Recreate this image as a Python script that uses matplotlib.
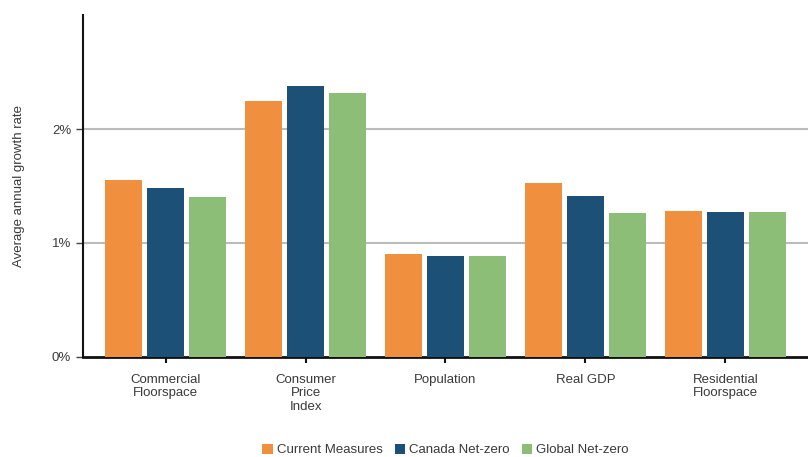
import numpy as np
import matplotlib
matplotlib.use("Agg")
import matplotlib.pyplot as plt
from matplotlib.ticker import FuncFormatter

plt.rcParams['font.family'] = ['Liberation Sans', 'DejaVu Sans']

categories = ["Commercial\nFloorspace", "Consumer\nPrice\nIndex", "Population",
              "Real GDP", "Residential\nFloorspace"]
series_names = ["Current Measures", "Canada Net-zero", "Global Net-zero"]
current_measures = [1.555, 2.25, 0.90, 1.53, 1.28]
canada_net_zero = [1.48, 2.38, 0.89, 1.41, 1.275]
global_net_zero = [1.40, 2.32, 0.89, 1.26, 1.275]

colors = ["#F08F3E", "#1D5077", "#8DBE78"]
text_col = "#3a3a3a"

fig = plt.figure(figsize=(8.08, 4.57), dpi=100)
ax = fig.add_axes([0.1027, 0.219, 0.8973, 0.748])

x = np.arange(len(categories))
width = 0.27
offsets = [-0.3, 0.0, 0.3]
for vals, off, col, name in zip([current_measures, canada_net_zero, global_net_zero],
                                offsets, colors, series_names):
    ax.bar(x + off, vals, width=width, color=col, label=name, zorder=3)

ax.set_xlim(-0.59, 4.59)
ax.set_ylim(0, 3)
ax.set_yticks([0, 1, 2])
ax.yaxis.set_major_formatter(FuncFormatter(lambda v, p: f"{v:.0f}%"))
ax.set_xticks(x)
ax.set_xticklabels(categories, fontsize=9.5, color=text_col, linespacing=1.2)
ax.tick_params(axis="y", labelsize=9.5, labelcolor=text_col, length=5, width=1, color="#444444")
ax.tick_params(axis="x", length=4, width=1.5, color="#111111", pad=8)

# light horizontal reference lines
for v in [1, 2]:
    ax.axhline(v, color="#BBBBBB", linewidth=1.5, zorder=1)

ax.spines["top"].set_visible(False)
ax.spines["right"].set_visible(False)
ax.spines["left"].set_linewidth(1.5)
ax.spines["bottom"].set_linewidth(2.0)
ax.spines["left"].set_color("#111111")
ax.spines["bottom"].set_color("#111111")

ax.set_ylabel("Average annual growth rate", fontsize=9.5, color=text_col, labelpad=19)

leg = ax.legend(loc="center", bbox_to_anchor=(0.5, -0.272), ncol=3, frameon=False,
                fontsize=9.5, handlelength=0.8, handleheight=0.8, handletextpad=0.3,
                columnspacing=0.9)
for t in leg.get_texts():
    t.set_color(text_col)

fig.savefig("out.png", dpi=100)
